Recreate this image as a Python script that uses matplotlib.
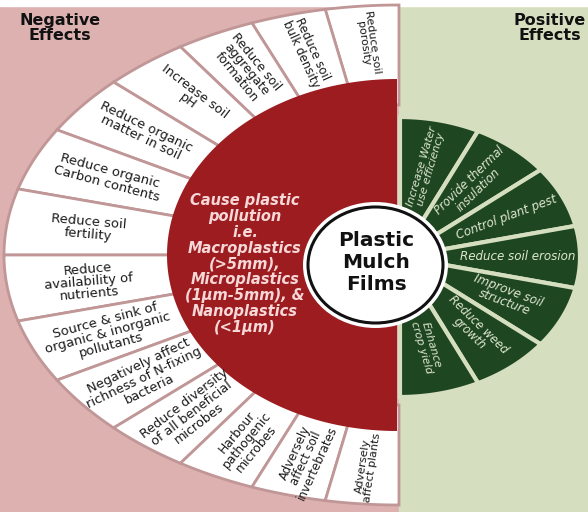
import numpy as np
import matplotlib.pyplot as plt
from matplotlib.patches import Polygon, Ellipse, Rectangle

# labels of the diagram
neg_labels = ["Reduce soil\nporosity",
              "Reduce soil\nbulk density",
              "Reduce soil\naggregate\nformation",
              "Increase soil\npH",
              "Reduce organic\nmatter in soil",
              "Reduce organic\nCarbon contents",
              "Reduce soil\nfertility",
              "Reduce\navailability of\nnutrients",
              "Source & sink of\norganic & inorganic\npollutants",
              "Negatively affect\nrichness of N-fixing\nbacteria",
              "Reduce diversity\nof all beneficial\nmicrobes",
              "Harbour\npathogenic\nmicrobes",
              "Adversely\naffect soil\ninvertebrates",
              "Adversely\naffect plants"]
pos_labels = ["Increase Water\nuse efficiency",
              "Provide thermal\ninsulation",
              "Control plant pest",
              "Reduce soil erosion",
              "Improve soil\nstructure",
              "Reduce weed\ngrowth",
              "Enhance\ncrop yield"]
center_text = "Plastic\nMulch\nFilms"
pollution_text = ("Cause plastic\npollution\ni.e.\nMacroplastics\n(>5mm),\nMicroplastics\n"
                  "(1\u03bcm-5mm), &\nNanoplastics\n(<1\u03bcm)")

pink = '#dcb1b0'
lgreen = '#d5dfbf'
dgreen = '#1e4621'
red = '#9c1c1f'

fig = plt.figure(figsize=(5.88, 5.12), dpi=100)
ax = fig.add_axes([0, 0, 1, 1])
ax.set_xlim(0, 588)
ax.set_ylim(512, 0)
ax.axis('off')

ax.add_patch(Rectangle((0, 0), 399, 512, color=pink, zorder=0))
ax.add_patch(Rectangle((399, 0), 189, 512, color=lgreen, zorder=0))
ax.add_patch(Rectangle((0, 0), 588, 6, color='white', zorder=0.5))


def ray_r(psi, a, b):
    return 1 / np.sqrt((np.cos(psi) / a) ** 2 + (np.sin(psi) / b) ** 2)


# negative side: white boxes
cx, cy = 399, 255
n = len(neg_labels)
t = np.radians(np.linspace(90, 270, n + 1))
psi_edges = np.mod(np.arctan2(177 * np.sin(t), 233 * np.cos(t)), 2 * np.pi)
for k in range(n):
    ps = np.linspace(psi_edges[k], psi_edges[k + 1], 40)
    ro = ray_r(ps, 395, 250)
    ri = ray_r(ps, 200, 150)
    xs = np.concatenate([cx + ro * np.cos(ps), (cx + ri * np.cos(ps))[::-1]])
    ys = np.concatenate([cy - ro * np.sin(ps), (cy - ri * np.sin(ps))[::-1]])
    ax.add_patch(Polygon(np.column_stack([xs, ys]), closed=True, fc='white',
                         ec='#c09696', lw=2.0, zorder=1))
    pm = (psi_edges[k] + psi_edges[k + 1]) / 2
    rm = 0.5 * (ray_r(pm, 231, 176) + ray_r(pm, 395, 250))
    # the picture is stretched sideways, so upright text looks narrower
    fs = 7.8 + 1.7 * abs(np.cos(pm))
    ax.text(cx + rm * np.cos(pm), cy - rm * np.sin(pm), neg_labels[k],
            rotation=np.degrees(pm) - 180, rotation_mode='anchor',
            ha='center', va='center', fontsize=fs, color='#1a1a1a',
            linespacing=0.95, zorder=3)

# red half disc
tr = np.radians(np.linspace(90, 270, 200))
ax.add_patch(Polygon(np.column_stack([397 + 230 * np.cos(tr), 255 - 176 * np.sin(tr)]),
                     closed=True, fc=red, ec='none', zorder=2))
ax.text(245, 264, pollution_text, ha='center', va='center', fontsize=10.5,
        fontweight='bold', style='italic', color='#f6d8d8', linespacing=1.08, zorder=4)

# positive side: green fan
gx, gy, ga, gb = 400, 257, 180, 140
m = len(pos_labels)
tg = np.radians(np.linspace(90, -90, m + 1))
for k in range(m):
    ts = np.linspace(tg[k], tg[k + 1], 40)
    xs = np.concatenate([[gx], gx + ga * np.cos(ts)])
    ys = np.concatenate([[gy], gy - gb * np.sin(ts)])
    ax.add_patch(Polygon(np.column_stack([xs, ys]), closed=True, fc=dgreen,
                         ec=lgreen, lw=3, zorder=1))
    tm = (tg[k] + tg[k + 1]) / 2
    psi = np.arctan2(gb * np.sin(tm), ga * np.cos(tm))
    fs = 7.6 + 1.0 * abs(np.cos(psi))
    ax.text(gx + 0.655 * ga * np.cos(tm), gy - 0.655 * gb * np.sin(tm), pos_labels[k],
            rotation=np.degrees(psi), rotation_mode='anchor', ha='center', va='center',
            fontsize=fs, style='italic', color='#dfe7cf', linespacing=0.95, zorder=3)

# centre circle
ax.add_patch(Ellipse((375.5, 265), 145, 126, fc='white', ec='none', zorder=5))
ax.add_patch(Ellipse((375.5, 265), 135, 116, fc='none', ec='#111111', lw=2.2, zorder=6))
ax.text(376, 263, center_text, ha='center', va='center', fontsize=14.5,
        fontweight='bold', color='#111111', linespacing=1.2, zorder=7)

ax.text(60, 28, "Negative\nEffects", ha='center', va='center', fontsize=11.5,
        fontweight='bold', color='#111111', linespacing=1.0, zorder=7)
ax.text(550, 28, "Positive\nEffects", ha='center', va='center', fontsize=11.5,
        fontweight='bold', color='#111111', linespacing=1.0, zorder=7)

fig.savefig('out.png', dpi=100)
